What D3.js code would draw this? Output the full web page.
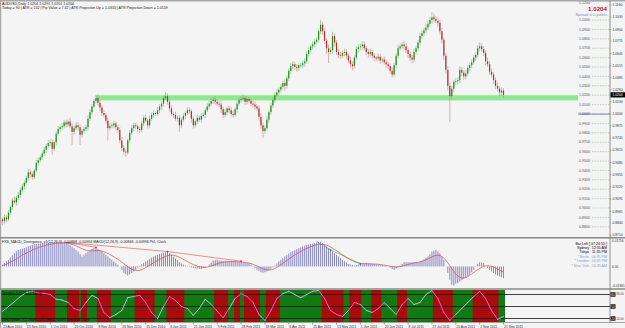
<!DOCTYPE html>
<html>
<head>
<meta charset="utf-8">
<script src="https://cdnjs.cloudflare.com/ajax/libs/d3/7.8.5/d3.min.js"></script>
<style>
  html, body { margin: 0; padding: 0; background: #f4f4f4; }
  svg { display: block; font-family: "Liberation Sans", Arial, sans-serif; }
</style>
</head>
<body>
<div id="chart"></div>
<script>
// AUDUSD daily, prices in pips (1 pip = 0.0001); open of a bar = previous close
const firstOpen = 8880;
const closes = [
  8860,8900,8880,8950,9010,9080,9060,9110,9140,9190,
  9230,9270,9320,9380,9360,9330,9400,9480,9510,9540,
  9580,9620,9660,9690,9700,9630,9700,9790,9840,9860,
  9870,9910,9890,9920,9870,9810,9850,9880,9860,9780,
  9820,9840,9860,9950,10020,10080,10140,10170,10120,10070,
  10010,9990,9930,9850,9870,9880,9900,9860,9830,9720,
  9640,9600,9590,9720,9800,9850,9880,9870,9840,9830,
  9900,9960,9930,9880,9950,9990,10010,10000,10040,10080,
  10110,10170,10190,10130,10060,10000,9990,9950,9960,9880,
  9940,9980,10010,10040,10030,9950,9880,9920,9960,9940,
  9980,9990,10040,10080,10110,10140,10150,10130,10110,10100,
  10050,9990,10020,10060,10040,10000,9990,10050,10110,10150,
  10160,10170,10130,10160,10140,10110,10100,10080,10060,9970,
  9880,9820,9850,9940,10020,10090,10150,10200,10230,10260,
  10290,10330,10300,10380,10460,10510,10530,10500,10490,10520,
  10520,10540,10560,10640,10680,10720,10740,10770,10790,10880,
  10950,10880,10780,10700,10660,10680,10830,10760,10660,10630,
  10620,10650,10660,10620,10570,10530,10510,10600,10690,10710,
  10720,10740,10700,10660,10640,10660,10620,10600,10590,10610,
  10570,10580,10550,10530,10510,10460,10420,10520,10620,10700,
  10720,10740,10720,10680,10640,10600,10580,10660,10700,10760,
  10830,10860,10890,10920,10960,11000,11030,11010,10990,10970,
  10880,10790,10620,10470,10300,10190,10270,10340,10350,10360,
  10470,10440,10400,10430,10490,10520,10550,10600,10630,10700,
  10720,10690,10650,10560,10530,10450,10420,10360,10300,10270,
  10230,10250,10204
];
// wick length above / below the body, pips
const wickUp = [
  20,35,25,30,20,25,40,20,30,25, 30,20,25,35,30,25,20,30,25,20,
  25,30,20,35,25,30,20,25,30,20, 35,25,30,20,40,30,25,35,30,25,
  20,30,25,35,30,25,20,35,40,30, 25,30,20,35,30,25,30,20,25,30,
  35,30,25,20,30,35,25,30,20,25, 30,25,35,20,30,25,30,20,35,25,
  30,25,45,30,25,30,20,35,25,30, 25,30,20,35,30,25,30,20,35,25,
  30,25,20,35,30,25,30,40,25,30, 35,25,30,20,25,30,35,20,30,25,
  30,35,25,30,20,25,30,35,25,30, 40,25,30,35,20,30,25,30,35,25,
  30,25,40,30,25,35,30,25,30,20, 25,30,35,25,30,20,35,30,25,30,
  50,35,30,25,40,30,45,30,25,35, 30,25,35,30,25,40,30,25,35,30,
  25,35,30,25,30,35,25,30,20,35, 30,25,35,30,25,30,40,25,30,35,
  30,25,40,35,30,25,30,35,25,30, 35,30,25,40,35,30,55,40,35,30,
  30,35,25,30,40,35,30,25,35,30, 40,30,25,35,30,25,35,30,25,35,
  46,35,30,25,40,30,35,25,30,35, 30,35,25
];
const wickDown = [
  40,25,30,20,25,30,20,35,25,30, 25,30,20,25,35,30,25,20,30,25,
  30,25,35,20,30,60,25,30,20,25, 30,25,35,30,20,140,30,25,35,110,
  30,25,20,35,25,30,20,25,30,35, 30,25,35,130,30,25,30,35,25,30,
  35,30,47,25,30,20,35,30,25,30, 25,30,20,35,30,25,30,20,25,30,
  35,30,25,30,35,25,30,20,35,70, 30,25,35,20,30,40,35,25,30,25,
  30,25,35,20,30,25,35,30,25,30, 40,30,25,35,30,25,30,20,35,25,
  30,25,35,30,20,25,30,35,25,40, 35,75,30,25,35,30,25,30,20,35,
  30,25,50,30,25,35,30,25,40,30, 25,30,35,25,30,20,35,30,25,30,
  30,40,35,60,117,30,35,40,30,35, 30,25,35,40,30,35,45,30,25,35,
  30,35,25,30,40,30,25,35,30,25, 35,30,25,40,35,30,30,25,35,30,
  25,30,35,30,40,35,40,30,25,30, 25,30,35,30,25,30,35,30,25,40,
  35,40,45,40,50,275,40,35,30,35, 30,35,40,30,25,35,30,25,35,30,
  30,25,35,40,30,35,30,40,35,30, 40,35,30
];
const dateLabels = [
  "23 Aug 2010","13 Sep 2010","1 Oct 2010","20 Oct 2010","8 Nov 2010","26 Nov 2010",
  "15 Dec 2010","3 Jan 2011","21 Jan 2011","9 Feb 2011","28 Feb 2011","18 Mar 2011",
  "6 Apr 2011","25 Apr 2011","13 May 2011","1 Jun 2011","20 Jun 2011","8 Jul 2011",
  "27 Jul 2011","15 Aug 2011","2 Sep 2011","21 Sep 2011"
];
const priceTicks = [
  "1.1160","1.1030","1.0900","1.0775","1.0645","1.0515","1.0385","1.0260","1.0130","1.0000",
  "0.9875","0.9745","0.9615","0.9485","0.9355","0.9225","0.9095","0.8965","0.8840","0.8710"
];
// round levels; 1.1100 sits under the spread text and shows no label
const levelTicks = [
  "1.1200","1.1000","1.0900","1.0800","1.0700","1.0600","1.0500","1.0400","1.0300",
  "1.0200","1.0100","1.0000","0.9900","0.9800","0.9700","0.9600","0.9500","0.9400","0.9300",
  "0.9200","0.9100","0.9000","0.8900","0.8800"
];
const supportZone = [10145, 10200];
const lastPrice = "1.0204";

// MACD histogram per bar, units of 0.0001
const macdHist = [
  13,23,34,44,59,74,88,99,110,114, 118,122,127,133,138,144,149,150,151,153,
  154,155,156,157,158,159,160,160,160,160, 160,160,160,151,141,132,121,110,99,82,
  66,77,88,98,107,116,122,127,118,108, 99,88,77,66,55,44,33,22,11,0,
  -22,-44,-52,-60,-52,-44,-33,-22,-8,6, 15,24,33,41,50,58,66,72,77,83,
  88,92,95,99,88,77,66,53,41,28, 21,13,6,2,-2,-7,-11,-13,-14,-16,
  -17,-11,-6,0,13,26,39,42,44,41, 39,36,33,33,33,33,33,32,30,29,
  28,26,25,23,22,11,0,-11,-22,-30, -39,-42,-38,-33,-24,-15,-6,7,20,33,
  44,55,66,75,85,94,101,108,114,121, 127,132,138,143,146,149,151,154,158,161,
  165,154,143,132,121,110,99,88,77,66, 55,44,35,26,17,13,10,6,10,13,
  17,19,20,22,20,19,17,15,13,11, 10,8,6,3,0,-8,-17,-22,-14,-6,
  6,17,28,28,28,28,28,28,28,28, 33,39,48,57,66,82,99,105,110,99,
  88,66,44,0,-44,-88,-121,-127,-115,-110, -101,-92,-83,-74,-64,-55,-38,-22,-2,17,
  28,25,22,0,-11,-22,-33,-44,-52,-61, -66,-72,-78
];
// signal line, one value every 4 bars
const macdSignal = [
  5,25,60,90,115,135,148,155,158,145,115,100,110,95,65,30,
  -15,-35,-10,25,55,80,70,40,10,-8,-5,20,33,33,30,25,
  5,-25,-25,10,50,85,115,137,152,140,105,68,35,18,18,16,
  10,-3,-5,15,25,35,65,85,30,-60,-88,-50,-10,12,-8,-38
];
// divergence lines: [bar1, value1, bar2, value2, colour]
const divergences = [
  [32, 160, 47, 127, "#d03030"],
  [32, 160, 83, 99, "#d03030"],
  [83, 99, 120, 35, "#d03030"],
  [158, 165, 165, 110, "#2a9a2a"],
  [165, 110, 180, 17, "#2a9a2a"]
];
// stochastic main line, one value every 3 bars
const stochLine = [
  38,50,62,75,85,88,84,83,80,68, 66,60,45,40,60,78,70,35,22,30,
  40,72,75,78,60,35,20,50,75,65, 50,45,28,45,68,55,38,22,45,70,
  82,75,60,30,15,40,70,82,88,80, 72,80,88,90,70,40,30,25,40,60,
  55,40,35,45,60,45,30,55,70,55, 60,80,90,70,35,15,30,45,60,75,
  88,70,40,18,25
];
const stochLevels = [80, 50, 20];
// bars where the trend background is red
const redZones = [
  [17,26],[33,38],[40,42],[48,54],[67,76],[83,91],[107,113],[117,119],
  [122,129],[133,139],[161,171],[175,180],[186,190],[199,203],[217,226],[237,249]
];
const clockRows = [
  ["Sydney", "12:35 AM", "#000"],
  ["Tokyo", "11:35 PM", "#000"],
  ["* Berlin", "04:35 PM", "#7f9fcf"],
  ["* London", "03:35 PM", "#7f9fcf"],
  ["* New York", "10:35 AM", "#7f9fcf"]
];

const width = 625, height = 328;
const axisX = 610;
const fs = 3.6;

const candles = closes.map((c, i) => {
  const o = i === 0 ? firstOpen : closes[i - 1];
  return {
    i: i,
    o: o / 10000,
    c: c / 10000,
    h: (Math.max(o, c) + wickUp[i]) / 10000,
    l: (Math.min(o, c) - wickDown[i]) / 10000
  };
});

const svg = d3.select("#chart").append("svg")
  .attr("width", width)
  .attr("height", height);

svg.append("rect").attr("width", width).attr("height", height).attr("fill", "#f4f4f4");

const defs = svg.append("defs");
defs.append("clipPath").attr("id", "clipMain")
  .append("rect").attr("x", 1).attr("y", 2).attr("width", axisX - 1).attr("height", 235);
defs.append("clipPath").attr("id", "clipMacd")
  .append("rect").attr("x", 1).attr("y", 239).attr("width", axisX - 1).attr("height", 49);
defs.append("clipPath").attr("id", "clipStoch")
  .append("rect").attr("x", 1).attr("y", 290).attr("width", axisX - 1).attr("height", 32);

const x = d3.scaleLinear().domain([0, closes.length - 1]).range([2.5, 503.5]);
const y = d3.scaleLinear().domain([0.8713, 1.1160]).range([235, 5]);

// ---------- main price panel ----------
const main = svg.append("g").attr("clip-path", "url(#clipMain)");

main.append("rect")
  .attr("x", x(47))
  .attr("y", y(supportZone[1] / 10000))
  .attr("width", 578 - x(47))
  .attr("height", y(supportZone[0] / 10000) - y(supportZone[1] / 10000))
  .attr("fill", "#8ee88e");

const candle = main.append("g").selectAll("g")
  .data(candles)
  .join("g");

candle.append("line")
  .attr("x1", d => x(d.i)).attr("x2", d => x(d.i))
  .attr("y1", d => y(d.h)).attr("y2", d => y(d.l))
  .attr("stroke", d => d.c >= d.o ? "#6fb86f" : "#d08080")
  .attr("stroke-width", 0.6);

candle.append("rect")
  .attr("x", d => x(d.i) - 0.6)
  .attr("width", 1.2)
  .attr("y", d => y(Math.max(d.o, d.c)))
  .attr("height", d => Math.max(0.6, Math.abs(y(d.o) - y(d.c))))
  .attr("fill", d => d.c >= d.o ? "#218a21" : "#b03030");

// level labels with dotted guide lines
const levels = svg.append("g");
levelTicks.forEach(t => {
  const yy = y(+t);
  levels.append("line")
    .attr("x1", 592).attr("x2", axisX).attr("y1", yy).attr("y2", yy)
    .attr("stroke", "#6aaa6a").attr("stroke-width", 0.5).attr("stroke-dasharray", "0.8,0.8");
  levels.append("text")
    .attr("x", 579).attr("y", Math.max(yy + 1.2, 4))
    .attr("font-size", fs).attr("fill", "#555")
    .text(t);
});
levels.append("line")
  .attr("x1", 578).attr("x2", axisX).attr("y1", y(1)).attr("y2", y(1))
  .attr("stroke", "#5a5a9a").attr("stroke-width", 0.7);

svg.append("text")
  .attr("x", 607).attr("y", 10.5).attr("text-anchor", "end")
  .attr("font-size", 6.2).attr("font-weight", "bold").attr("fill", "#cc1010")
  .text(lastPrice);
svg.append("text")
  .attr("x", 607).attr("y", 15.5).attr("text-anchor", "end")
  .attr("font-size", 3.9).attr("fill", "#6f93bd")
  .text("Spread: 0.0 points");

svg.append("text")
  .attr("x", 2).attr("y", 5)
  .attr("font-size", fs).attr("fill", "#222")
  .text("AUDUSD,Daily  1.0204 1.0291 1.0201 1.0204");
svg.append("text")
  .attr("x", 2).attr("y", 9.2)
  .attr("font-size", fs).attr("fill", "#222")
  .text("Today = 90   |   ATR = 132   |   Pip Value = 7.32   |   ATR Projection Up = 1.0333   |   ATR Projection Down = 1.0159");

// ---------- MACD panel ----------
const m = d3.scaleLinear().domain([-0.01365, 0.01756]).range([287, 240]);
const macd = svg.append("g").attr("clip-path", "url(#clipMacd)");

macd.append("g").selectAll("line")
  .data(macdHist)
  .join("line")
  .attr("x1", (d, i) => x(i)).attr("x2", (d, i) => x(i))
  .attr("y1", m(0)).attr("y2", d => m(d / 10000))
  .attr("stroke", "#7474bc").attr("stroke-width", 0.85);

macd.append("path")
  .datum(macdSignal)
  .attr("fill", "none")
  .attr("stroke", "#d84a4a")
  .attr("stroke-width", 0.7)
  .attr("d", d3.line().x((d, k) => x(k * 4)).y(d => m(d / 10000)).curve(d3.curveBasis));

divergences.forEach(d => {
  macd.append("line")
    .attr("x1", x(d[0])).attr("y1", m(d[1] / 10000))
    .attr("x2", x(d[2])).attr("y2", m(d[3] / 10000))
    .attr("stroke", d[4]).attr("stroke-width", 0.5);
  macd.append("circle")
    .attr("cx", x(d[2])).attr("cy", m(d[3] / 10000)).attr("r", 0.9)
    .attr("fill", d[4]);
});

svg.append("text")
  .attr("x", 2).attr("y", 243)
  .attr("font-size", fs).attr("fill", "#222")
  .text("FXS_MACD_Divergence_v1(12,26,9) -0.00868 -0.00964  MACD(12,26,9) -0.00846 -0.00996  Pt4, Clock");

svg.append("text")
  .attr("x", 607).attr("y", 244.5).attr("text-anchor", "end")
  .attr("font-size", fs).attr("fill", "#000")
  .text("Bar Left [ 07:24:55 ]");
clockRows.forEach((r, k) => {
  svg.append("text")
    .attr("x", 589).attr("y", 249 + k * 4.4).attr("text-anchor", "end")
    .attr("font-size", fs).attr("fill", r[2]).text(r[0]);
  svg.append("text")
    .attr("x", 607).attr("y", 249 + k * 4.4).attr("text-anchor", "end")
    .attr("font-size", fs).attr("fill", r[2]).text(r[1]);
});

// ---------- stochastic panel ----------
const s = d3.scaleLinear().domain([0, 100]).range([326.5, 286.5]);
const stoch = svg.append("g").attr("clip-path", "url(#clipStoch)");

stoch.append("rect")
  .attr("x", 1).attr("y", 290).attr("width", x(252) + 1.5 - 1).attr("height", 32)
  .attr("fill", "#137a13");
stoch.append("g").selectAll("rect")
  .data(redZones)
  .join("rect")
  .attr("x", d => x(d[0]) - 1)
  .attr("width", d => x(d[1]) - x(d[0]) + 2)
  .attr("y", 290).attr("height", 32)
  .attr("fill", "#a80c0c");

stochLevels.forEach(v => {
  stoch.append("line")
    .attr("x1", 1).attr("x2", axisX).attr("y1", s(v)).attr("y2", s(v))
    .attr("stroke", "#111").attr("stroke-width", 0.8);
});

const inRed = b => redZones.some(z => b >= z[0] - 1 && b <= z[1] + 1);
stoch.append("g").selectAll("line")
  .data(stochLine.slice(1))
  .join("line")
  .attr("x1", (d, k) => x(k * 3)).attr("y1", (d, k) => s(stochLine[k]))
  .attr("x2", (d, k) => x(k * 3 + 3)).attr("y2", d => s(d))
  .attr("stroke", (d, k) => inRed(k * 3 + 1.5) ? "#ff5ee0" : "#b4c8ff")
  .attr("stroke-width", 0.9)
  .attr("stroke-linecap", "round");

svg.append("text")
  .attr("x", 2).attr("y", 294)
  .attr("font-size", fs).attr("fill", "#111")
  .text("Stoch(5,3,3) 24.17 31.06");
svg.append("text")
  .attr("x", 2).attr("y", 321)
  .attr("font-size", fs).attr("fill", "#111")
  .text("Description: (C) 2009-2011 MetaQuotes Software Corp.");

// ---------- frame, separators, axes ----------
svg.append("rect").attr("x", 0).attr("y", 0).attr("width", width).attr("height", 1.5).attr("fill", "#a8a8a8");
svg.append("rect").attr("x", 0).attr("y", 0).attr("width", 1.2).attr("height", height).attr("fill", "#a8a8a8");
[237.8, 289].forEach(yy => {
  svg.append("line")
    .attr("x1", 0).attr("x2", width).attr("y1", yy).attr("y2", yy)
    .attr("stroke", "#8a8a8a").attr("stroke-width", 1.4);
});
svg.append("line")
  .attr("x1", 0).attr("x2", width).attr("y1", 322.5).attr("y2", 322.5)
  .attr("stroke", "#8a8a8a").attr("stroke-width", 0.8);
svg.append("line")
  .attr("x1", axisX).attr("x2", axisX).attr("y1", 1).attr("y2", 323)
  .attr("stroke", "#777").attr("stroke-width", 0.8);

// price axis
const pa = svg.append("g");
priceTicks.forEach(t => {
  const yy = y(+t);
  pa.append("line").attr("x1", axisX).attr("x2", axisX + 1.5).attr("y1", yy).attr("y2", yy)
    .attr("stroke", "#777").attr("stroke-width", 0.5);
  pa.append("text").attr("x", 612.5).attr("y", yy + 1.2)
    .attr("font-size", fs - 0.3).attr("fill", "#333").text(t);
});
pa.append("rect").attr("x", axisX + 0.5).attr("y", y(+lastPrice) - 2.6).attr("width", 14.5).attr("height", 5.2).attr("fill", "#000");
pa.append("text").attr("x", 612.5).attr("y", y(+lastPrice) + 1.2)
  .attr("font-size", fs - 0.3).attr("fill", "#fff").text(lastPrice);

// macd axis
[["0.01756", 0.01756], ["0.00", 0], ["-0.01365", -0.01365]].forEach(t => {
  svg.append("text").attr("x", 612).attr("y", Math.min(287, Math.max(241.5, m(t[1]) + 1.2)))
    .attr("font-size", fs - 0.4).attr("fill", "#333").text(t[0]);
});

// stoch axis boxes
stochLevels.forEach(v => {
  svg.append("rect").attr("x", axisX + 0.5).attr("y", s(v) - 2.2).attr("width", 5).attr("height", 4.4).attr("fill", "#111");
  svg.append("text").attr("x", axisX + 3).attr("y", s(v) + 1.1).attr("text-anchor", "middle")
    .attr("font-size", 3).attr("fill", "#fff").text(v);
});
svg.append("text").attr("x", 616.5).attr("y", s(80) + 0.5).attr("font-size", 2.8).attr("fill", "#333").text("80.00");
svg.append("text").attr("x", 616.5).attr("y", s(20) + 1.5).attr("font-size", 2.8).attr("fill", "#333").text("20.00");

// date axis
const da = svg.append("g");
dateLabels.forEach((t, k) => {
  const xx = x(k * 12);
  da.append("line").attr("x1", xx).attr("x2", xx).attr("y1", 322.5).attr("y2", 324.5)
    .attr("stroke", "#555").attr("stroke-width", 0.5);
  da.append("text").attr("x", xx + 0.5).attr("y", 327.6)
    .attr("font-size", fs - 0.2).attr("fill", "#333").text(t);
});
</script>
</body>
</html>
